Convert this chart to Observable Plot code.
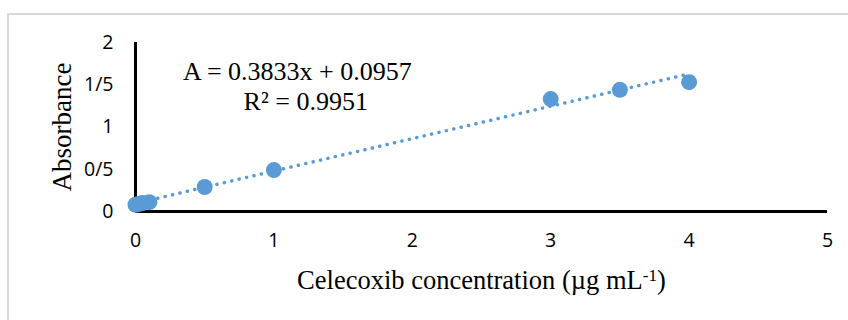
<!DOCTYPE html>
<html>
<head>
<meta charset="utf-8">
<script src="https://cdn.jsdelivr.net/npm/d3@7"></script>
<script src="https://cdn.jsdelivr.net/npm/@observablehq/plot@0.6"></script>
<style>
  html, body { margin: 0; padding: 0; background: #fff; overflow: hidden; }
  #wrap { position: relative; width: 848px; height: 320px; }
  #border { position: absolute; left: 7px; top: 13px; width: 900px; height: 400px; border: 2px solid #d9d9d9; box-sizing: border-box; pointer-events: none; }
  #chart { position: absolute; left: 0; top: 0; }
</style>
</head>
<body>
<div id="wrap"><div id="border"></div><div id="chart"></div></div>
<script>
// Data
const concentration = [0, 0.025, 0.05, 0.1, 0.5, 1, 3, 3.5, 4];
const absorbance    = [0.08, 0.09, 0.10, 0.11, 0.29, 0.49, 1.33, 1.44, 1.53];
const xTicks = [0, 1, 2, 3, 4, 5];
const yTicks = [0, 0.5, 1, 1.5, 2];
const slope = 0.3833, intercept = 0.0957;
const trendX = [0, 4];
const equationText = "A = 0.3833x + 0.0957";
const r2Text = "R\u00B2 = 0.9951";
const xTitle = "Celecoxib concentration (\u00B5g mL-1)";
const yTitle = "Absorbance";

const points = concentration.map((c, i) => ({x: c, y: absorbance[i]}));
const trend = trendX.map(x => ({x, y: slope * x + intercept}));

const sans = "'Open Sans', 'Liberation Sans', sans-serif";
const serif = "'Liberation Serif', 'Times New Roman', serif";
const blue = "#5b9bd5";

const chart = Plot.plot({
  width: 848,
  height: 320,
  marginLeft: 135,
  marginRight: 21,
  marginTop: 42,
  marginBottom: 109,
  style: {background: "transparent", overflow: "visible"},
  x: {domain: [0, 5]},
  y: {domain: [0, 2]},
  marks: [
    Plot.axisX(xTicks, {tickSize: 0, tickPadding: 22, label: null, fontSize: 19.5, fontFamily: sans, fill: "#000",
      tickFormat: d => String(d)}),
    Plot.axisY(yTicks, {tickSize: 0, tickPadding: 22, label: null, fontSize: 19.5, fontFamily: sans, fill: "#000",
      tickFormat: d => String(d).replace(".", "/")}),
    Plot.line(trend, {x: "x", y: "y", stroke: blue, strokeWidth: 3.5, strokeDasharray: "0.1 7.5", strokeLinecap: "round"}),
    Plot.ruleY([0], {stroke: "#000", strokeWidth: 3}),
    Plot.ruleX([0], {y1: 0, y2: 2, stroke: "#000", strokeWidth: 3}),
    Plot.dot(points, {x: "x", y: "y", r: 8, fill: blue, stroke: "none"}),
    Plot.text([equationText], {x: 1.17, y: 1.65, text: d => d, fontFamily: serif, fontSize: 26, fill: "#000"}),
    Plot.text([r2Text], {x: 1.23, y: 1.3, text: d => d, fontFamily: serif, fontSize: 26, fill: "#000"}),
    Plot.text([xTitle], {frameAnchor: "bottom", dy: 69, lineAnchor: "middle", textAnchor: "middle", text: d => d, fontFamily: serif, fontSize: 26.5, fill: "#000"}),
    Plot.text([yTitle], {frameAnchor: "left", dx: -73, rotate: -90, lineAnchor: "middle", textAnchor: "middle", text: d => d, fontFamily: serif, fontSize: 27, fill: "#000"})
  ]
});
document.getElementById("chart").appendChild(chart);

// superscript on the x title
d3.select(chart).selectAll("text").filter(function() { return this.textContent === xTitle; }).each(function() {
  const t = d3.select(this);
  t.text(null);
  t.append("tspan").text("Celecoxib concentration (\u00B5g mL");
  t.append("tspan").attr("dy", "-0.45em").attr("font-size", "0.65em").text("-1");
  t.append("tspan").attr("dy", "0.29em").text(")");
});
</script>
</body>
</html>
